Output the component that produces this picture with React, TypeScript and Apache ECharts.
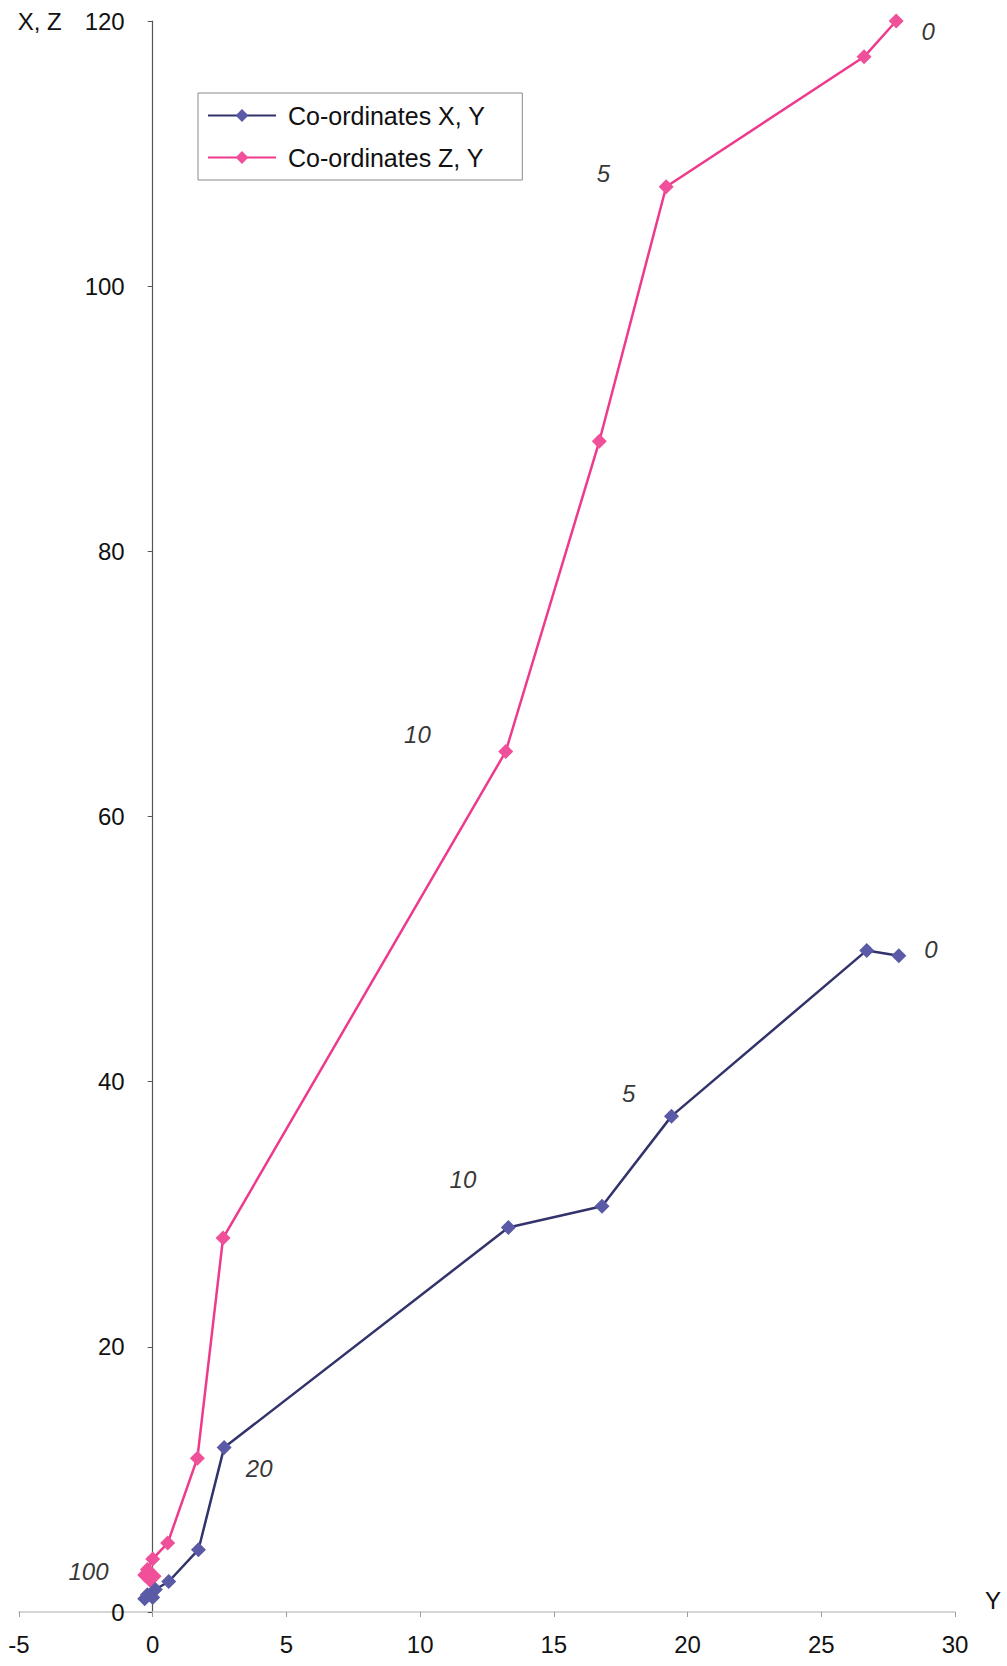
import React, { useEffect, useRef } from "react";
import * as echarts from "echarts";

// Co-ordinates X, Y  ([Y, X])
const xyPoints: number[][] = [
  [27.9, 49.5],
  [26.7, 49.9],
  [19.4, 37.4],
  [16.8, 30.6],
  [13.3, 29.0],
  [2.67, 12.4],
  [1.71, 4.7],
  [0.6, 2.3],
  [0.1, 1.7],
  [-0.2, 1.3],
  [-0.3, 1.0],
  [0.0, 1.1],
];

// Co-ordinates Z, Y  ([Y, Z])
const zyPoints: number[][] = [
  [27.8, 120.0],
  [26.6, 117.3],
  [19.2, 107.5],
  [16.7, 88.3],
  [13.2, 64.9],
  [2.63, 28.2],
  [1.67, 11.6],
  [0.56, 5.2],
  [0.0, 4.0],
  [-0.2, 3.2],
  [-0.3, 2.8],
  [-0.1, 2.4],
  [0.05, 2.7],
];

const annotationTexts = ["0", "5", "10", "0", "5", "10", "20", "100"];
const annotationX = [29.0, 16.85, 9.9, 29.1, 17.8, 11.6, 3.98, -2.4];
const annotationY = [119.2, 108.5, 66.2, 50.0, 39.1, 32.6, 10.8, 3.05];

const seriesNames = ["Co-ordinates X, Y", "Co-ordinates Z, Y"];
const xAxisRange = { min: -5, max: 30, interval: 5 };
const yAxisRange = { min: 0, max: 120, interval: 20 };

const FONT = "'Liberation Sans', Arial, sans-serif";

const GRID_LEFT = 19;
const GRID_RIGHT = 52;
const CHART_W = 1007;

export default function App() {
  const ref = useRef<HTMLDivElement>(null);
  useEffect(() => {
    if (!ref.current) return;
    const chart = echarts.init(ref.current, null, { renderer: "svg" });
    const plotW = CHART_W - GRID_LEFT - GRID_RIGHT;
    const zeroOffset = ((0 - xAxisRange.min) / (xAxisRange.max - xAxisRange.min)) * plotW;
    chart.setOption({
      animation: false,
      backgroundColor: "#ffffff",
      textStyle: { fontFamily: FONT },
      grid: { left: GRID_LEFT, right: GRID_RIGHT, top: 21, bottom: 54, containLabel: false, outerBoundsMode: "none" },
      legend: {
        data: seriesNames,
        orient: "vertical",
        left: 198,
        top: 93,
        itemWidth: 68,
        itemHeight: 16,
        itemGap: 17,
        padding: [10, 37, 10, 9],
        borderColor: "#8a8a8a",
        borderWidth: 1,
        backgroundColor: "#ffffff",
        textStyle: { fontSize: 25, color: "#111111", fontFamily: FONT, padding: [0, 0, 0, 7] },
      },
      xAxis: {
        type: "value",
        min: xAxisRange.min,
        max: xAxisRange.max,
        interval: xAxisRange.interval,
        name: "Y",
        nameLocation: "end",
        nameGap: 30,
        nameTextStyle: { fontSize: 24, color: "#111111", verticalAlign: "bottom", padding: [0, 0, 0, 0] },
        axisLine: { lineStyle: { color: "#c9c9c9", width: 1.5 } },
        axisTick: { show: true, length: 5, lineStyle: { color: "#9a9a9a" } },
        splitLine: { show: false },
        axisLabel: { fontSize: 24, color: "#111111", margin: 20 },
      },
      yAxis: {
        type: "value",
        min: yAxisRange.min,
        max: yAxisRange.max,
        interval: yAxisRange.interval,
        offset: -zeroOffset,
        name: "X, Z",
        nameLocation: "end",
        nameGap: 0,
        nameTextStyle: { fontSize: 24, color: "#111111", align: "right", verticalAlign: "middle", padding: [0, 91, 0, 0] },
        axisLine: { onZero: false, lineStyle: { color: "#555555", width: 1.2 } },
        axisTick: { show: true, length: 5, lineStyle: { color: "#555555" } },
        splitLine: { show: false },
        axisLabel: { fontSize: 24, color: "#111111", margin: 28 },
      },
      series: [
        {
          name: seriesNames[0],
          type: "line",
          data: xyPoints,
          symbol: "diamond",
          symbolSize: 15,
          lineStyle: { color: "#33336c", width: 2.5 },
          itemStyle: { color: "#5a5aa6" },
          z: 3,
        },
        {
          name: seriesNames[1],
          type: "line",
          data: zyPoints,
          symbol: "diamond",
          symbolSize: 15,
          lineStyle: { color: "#ee3a8c", width: 2.5 },
          itemStyle: { color: "#f0509a" },
          z: 2,
        },
        {
          name: "annotations",
          type: "scatter",
          silent: true,
          symbolSize: 0,
          data: annotationX.map((x, i) => ({ value: [x, annotationY[i]], name: annotationTexts[i] })),
          label: {
            show: true,
            position: "inside",
            formatter: (p: any) => p.name,
            fontSize: 24,
            fontStyle: "italic",
            color: "#000000",
            fontFamily: FONT,
          },
        },
      ],
    });
    return () => chart.dispose();
  }, []);
  return (
    <div
      ref={ref}
      style={{ position: "absolute", left: 0, top: 0, width: 1007, height: 1666, background: "#fff" }}
    />
  );
}
